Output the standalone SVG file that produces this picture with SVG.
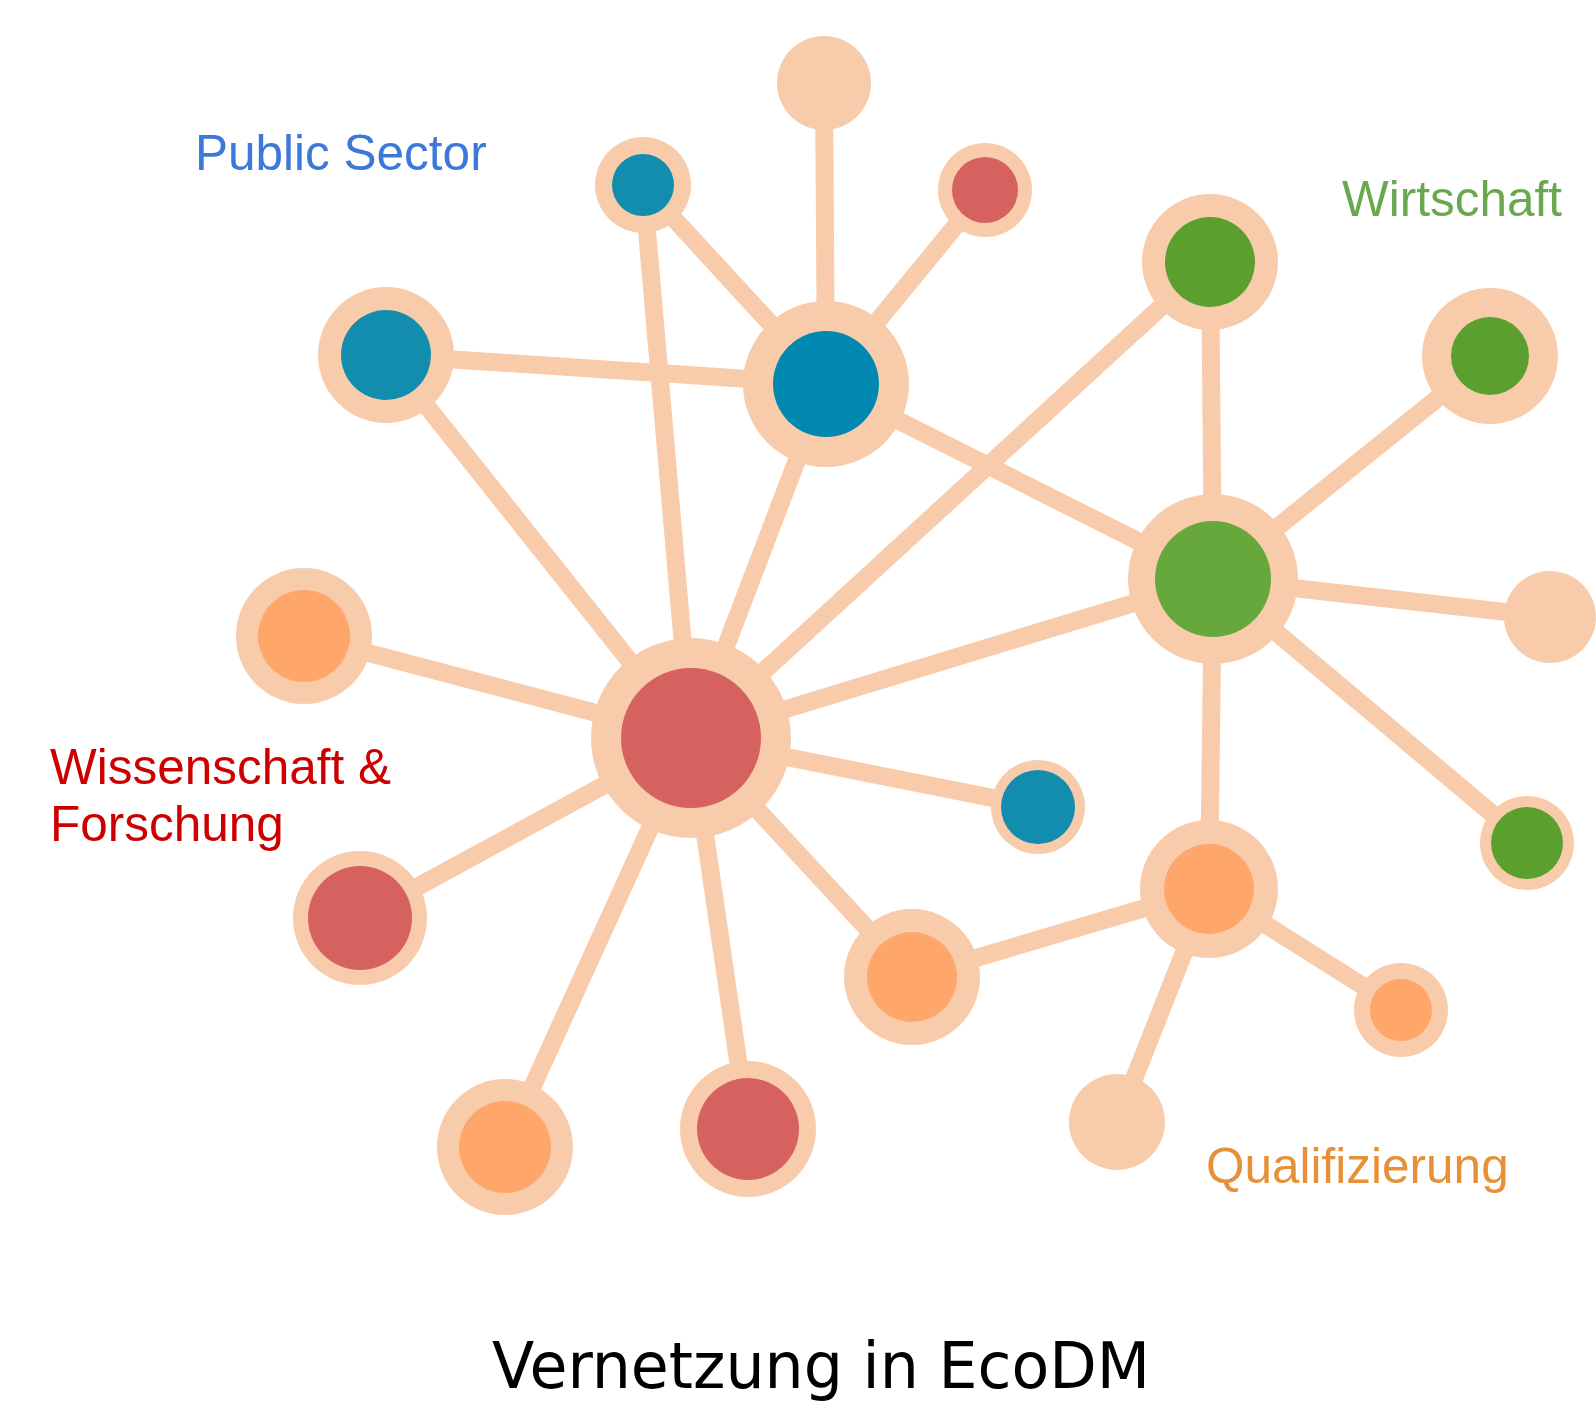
<svg xmlns="http://www.w3.org/2000/svg" width="1596" height="1403" viewBox="0 0 1596 1403">
<style>
.e{stroke:#F8CCAB;stroke-width:18;stroke-linecap:butt;fill:none}
.o{fill:#F8CCAB}
.blue{fill:#138DAD}
.hubblue{fill:#0088B0}
.red{fill:#D6625F}
.green{fill:#5BA02E}
.hubgreen{fill:#67A83C}
.orange{fill:#FFA66B}
.lbl{font-family:"Liberation Sans",Arial,sans-serif;font-size:49.5px}
</style>
<rect width="1596" height="1403" fill="#ffffff"/>
<g id="connectors">
<line class="e" x1="824" y1="83" x2="826" y2="384"/>
<line class="e" x1="643" y1="185" x2="826" y2="384"/>
<line class="e" x1="985" y1="190" x2="826" y2="384"/>
<line class="e" x1="386" y1="355" x2="826" y2="384"/>
<line class="e" x1="826" y1="384" x2="691" y2="738"/>
<line class="e" x1="826" y1="384" x2="1213" y2="579"/>
<line class="e" x1="643" y1="185" x2="691" y2="738"/>
<line class="e" x1="386" y1="355" x2="691" y2="738"/>
<line class="e" x1="1210" y1="262" x2="691" y2="738"/>
<line class="e" x1="1210" y1="262" x2="1213" y2="579"/>
<line class="e" x1="1490" y1="356" x2="1213" y2="579"/>
<line class="e" x1="1213" y1="579" x2="1550" y2="617"/>
<line class="e" x1="1213" y1="579" x2="1527" y2="843"/>
<line class="e" x1="1213" y1="579" x2="1209" y2="889"/>
<line class="e" x1="691" y1="738" x2="1213" y2="579"/>
<line class="e" x1="691" y1="738" x2="304" y2="636"/>
<line class="e" x1="691" y1="738" x2="360" y2="918"/>
<line class="e" x1="691" y1="738" x2="505" y2="1147"/>
<line class="e" x1="691" y1="738" x2="748" y2="1129"/>
<line class="e" x1="691" y1="738" x2="912" y2="977"/>
<line class="e" x1="691" y1="738" x2="1038" y2="807"/>
<line class="e" x1="912" y1="977" x2="1209" y2="889"/>
<line class="e" x1="1209" y1="889" x2="1401" y2="1010"/>
<line class="e" x1="1209" y1="889" x2="1117" y2="1122"/>
</g>
<g id="n-top"><circle class="o" cx="824" cy="83" r="47"/></g>
<g id="n-blue-small-top"><circle class="o" cx="643" cy="185" r="48"/><circle class="blue" cx="643" cy="185" r="31"/></g>
<g id="n-red-small-top"><circle class="o" cx="985" cy="190" r="47"/><circle class="red" cx="985" cy="190" r="33"/></g>
<g id="n-public-hub"><circle class="o" cx="826" cy="384" r="83"/><circle class="hubblue" cx="826" cy="384" r="53"/></g>
<g id="n-blue-left"><circle class="o" cx="386" cy="355" r="68"/><circle class="blue" cx="386" cy="355" r="45"/></g>
<g id="n-green-top"><circle class="o" cx="1210" cy="262" r="68"/><circle class="green" cx="1210" cy="262" r="45"/></g>
<g id="n-green-right"><circle class="o" cx="1490" cy="356" r="68"/><circle class="green" cx="1490" cy="356" r="39"/></g>
<g id="n-green-hub"><circle class="o" cx="1213" cy="579" r="85"/><circle class="hubgreen" cx="1213" cy="579" r="58"/></g>
<g id="n-right"><circle class="o" cx="1550" cy="617" r="46"/></g>
<g id="n-green-small"><circle class="o" cx="1527" cy="843" r="47"/><circle class="green" cx="1527" cy="843" r="36"/></g>
<g id="n-quali-hub"><circle class="o" cx="1209" cy="889" r="69"/><circle class="orange" cx="1209" cy="889" r="45"/></g>
<g id="n-orange-small"><circle class="o" cx="1401" cy="1010" r="47"/><circle class="orange" cx="1401" cy="1010" r="31"/></g>
<g id="n-bottom-right"><circle class="o" cx="1117" cy="1122" r="48"/></g>
<g id="n-orange-mid"><circle class="o" cx="912" cy="977" r="68"/><circle class="orange" cx="912" cy="977" r="45"/></g>
<g id="n-blue-small-mid"><circle class="o" cx="1038" cy="807" r="47"/><circle class="blue" cx="1038" cy="807" r="37"/></g>
<g id="n-science-hub"><circle class="o" cx="691" cy="738" r="100"/><circle class="red" cx="691" cy="738" r="70"/></g>
<g id="n-orange-left"><circle class="o" cx="304" cy="636" r="68"/><circle class="orange" cx="304" cy="636" r="46"/></g>
<g id="n-red-left"><circle class="o" cx="360" cy="918" r="67"/><circle class="red" cx="360" cy="918" r="52"/></g>
<g id="n-orange-bottom"><circle class="o" cx="505" cy="1147" r="68"/><circle class="orange" cx="505" cy="1147" r="46"/></g>
<g id="n-red-bottom"><circle class="o" cx="748" cy="1129" r="68"/><circle class="red" cx="748" cy="1129" r="51"/></g>
<g id="labels">
<text class="lbl" x="195" y="170" fill="#3C78D8">Public Sector</text>
<text class="lbl" x="1342" y="216" fill="#6AA84F">Wirtschaft</text>
<text class="lbl" x="50" y="784" fill="#CC0000">Wissenschaft &amp;</text>
<text class="lbl" x="50" y="841" fill="#CC0000">Forschung</text>
<text class="lbl" x="1206" y="1183" fill="#E69138">Qualifizierung</text>
<text x="492" y="1388" font-family="'DejaVu Sans','Liberation Sans',sans-serif" font-size="64" textLength="658" lengthAdjust="spacingAndGlyphs" fill="#000000">Vernetzung in EcoDM</text>
</g>
</svg>
